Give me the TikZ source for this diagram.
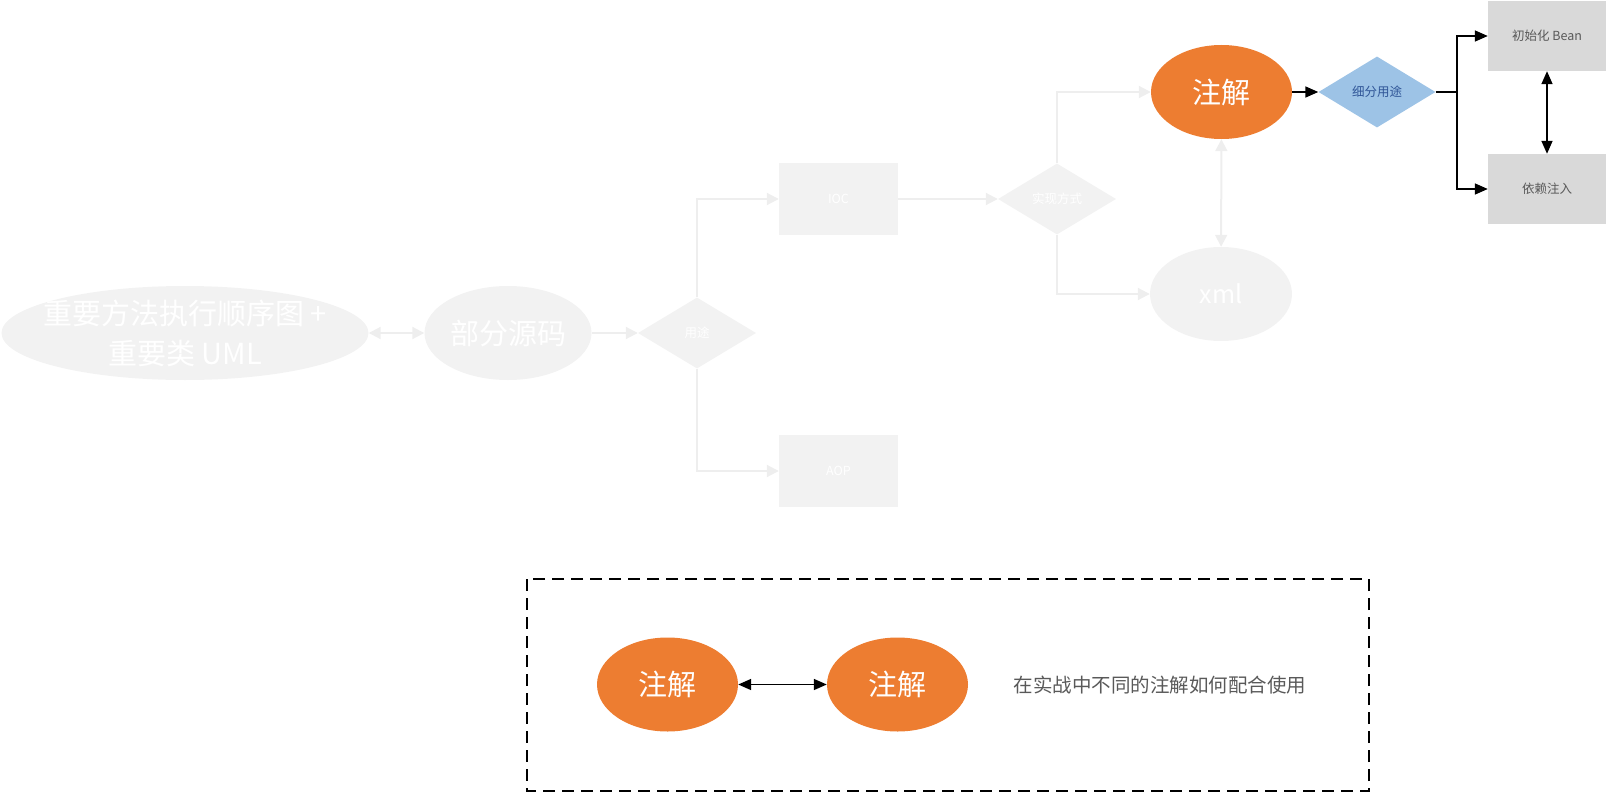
\documentclass[tikz,border=0pt]{standalone}
\usepackage{fontspec}
\setmainfont{Noto Sans CJK SC}
\usetikzlibrary{shapes.geometric,arrows.meta}
\definecolor{faint}{HTML}{F2F2F2}
\definecolor{fainttrack}{HTML}{EEEEEE}
\definecolor{carrot}{HTML}{ED7D31}
\definecolor{skyblue}{HTML}{9DC3E6}
\definecolor{navy}{HTML}{2F5597}
\definecolor{boxgrey}{HTML}{D9D9D9}
\definecolor{bk65}{HTML}{595959}

\begin{document}
\begin{tikzpicture}[x=1pt,y=-1pt]

  % Set default font
  \tikzset{every node/.style={font=\fontsize{12.5}{14}\selectfont, inner sep=0pt}}

  % Shared looks
  \tikzset{
    faintoval/.style={ellipse, fill=faint, text=white},
    faintbox/.style={rectangle, fill=faint, text=white, minimum width=119, minimum height=72},
    faintdiamond/.style={diamond, fill=faint, text=white, minimum width=118, minimum height=71},
    annooval/.style={ellipse, fill=carrot, text=white, minimum width=141, minimum height=94,
      font=\fontsize{29}{32}\selectfont},
    greybox/.style={rectangle, fill=boxgrey, text=bk65, minimum width=118, minimum height=70,
      font=\fontsize{12.5}{14}\selectfont},
    fainttip/.style={draw=fainttrack, line width=2pt, -{Triangle[length=12pt,width=12pt]}},
    blacktip/.style={draw=black, line width=1.6pt, -{Triangle[length=13pt,width=11pt]}}
  }

  \useasboundingbox (0,0) rectangle (1606,792);

  % Faded part: source overview
  \node[faintoval, minimum width=367, minimum height=94, align=center,
    inner xsep=-17pt, inner ysep=-9pt,
    font=\fontsize{29}{40}\selectfont] (order_uml) at (185,333)
    {重要方法执行顺序图 +\\重要类 UML};
  \node[faintoval, minimum width=167, minimum height=94,
    font=\fontsize{29}{32}\selectfont] (source) at (508,333) {部分源码};
  \node[faintdiamond] (usage) at (697,333) {用途};
  \node[faintbox] (ioc) at (838.5,199) {IOC};
  \node[faintbox] (aop) at (838.5,471) {AOP};
  \node[faintdiamond] (impl) at (1057,199) {实现方式};
  \node[faintoval, minimum width=142, minimum height=94,
    font=\fontsize{25}{28}\selectfont] (xml) at (1221,294) {xml};

  % Annotation branch
  \node[annooval] (anno) at (1221.5,92) {注解};
  \node[diamond, fill=skyblue, text=navy, minimum width=117, minimum height=71,
    font=\fontsize{12.5}{14}\selectfont] (detail) at (1377,92) {细分用途};
  \node[greybox] (init_bean) at (1547,36) {初始化 Bean};
  \node[greybox] (inject) at (1547,189) {依赖注入};
  \coordinate (branch) at (1457,92);

  % Faded connectors
  \draw[fainttip, {Triangle[length=12pt,width=12pt]}-{Triangle[length=12pt,width=12pt]}]
    (order_uml) -- (source);
  \draw[fainttip] (source) -- (usage);
  \draw[fainttip] (usage.north) |- (ioc.west);
  \draw[fainttip] (usage.south) |- (aop.west);
  \draw[fainttip] (ioc) -- (impl);
  \draw[fainttip] (impl.north) |- (anno.west);
  \draw[fainttip] (impl.south) |- (xml.west);
  \draw[fainttip, {Triangle[length=12pt,width=12pt]}-{Triangle[length=12pt,width=12pt]}]
    (anno) -- (xml);

  % Black connectors
  \draw[blacktip] (anno) -- (detail);
  \draw[line width=1.6pt] (detail.east) -- (branch);
  \draw[blacktip] (branch) |- (init_bean.west);
  \draw[blacktip] (branch) |- (inject.west);
  \draw[blacktip, {Triangle[length=13pt,width=11pt]}-{Triangle[length=13pt,width=11pt]}]
    (init_bean) -- (inject);

  % Dashed frame: combined annotations
  \draw[line width=1.5pt, dash pattern=on 12pt off 7pt] (527,579) rectangle (1369,791);
  \node[annooval] (pair_left) at (667.5,684.5) {注解};
  \node[annooval] (pair_right) at (897.5,684.5) {注解};
  \draw[blacktip, {Triangle[length=13pt,width=11pt]}-{Triangle[length=13pt,width=11pt]}]
    (pair_left) -- (pair_right);
  \node[text=bk65, font=\fontsize{19.5}{22}\selectfont] (combine_note) at (1160,685)
    {在实战中不同的注解如何配合使用};

\end{tikzpicture}
\end{document}
